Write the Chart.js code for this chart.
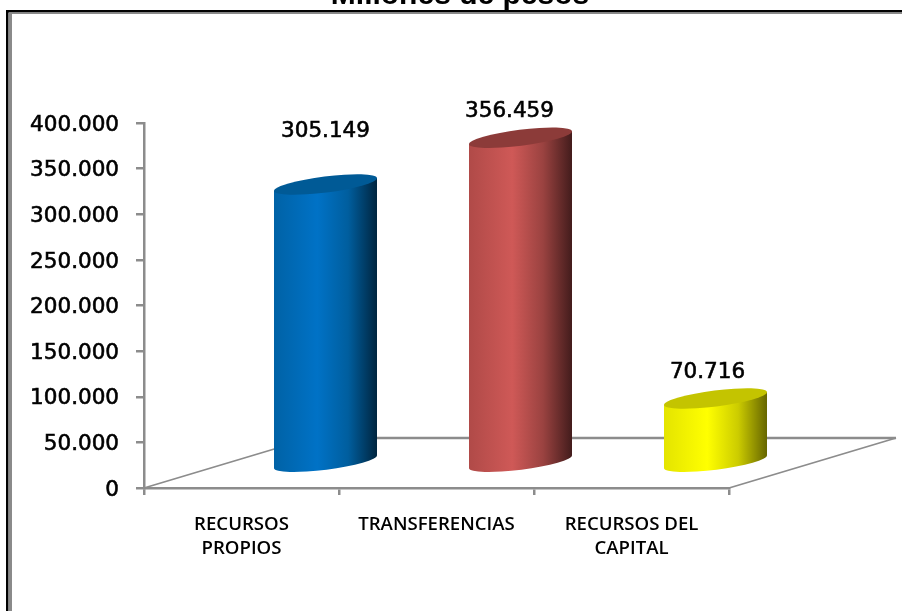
<!DOCTYPE html>
<html><head><meta charset="utf-8">
<style>html,body{margin:0;padding:0;background:#fff}#w{width:902px;height:611px}canvas{display:block;filter:blur(.4px)}</style>
<script src="https://cdn.jsdelivr.net/npm/chart.js@4"></script></head>
<body><div id="w"><canvas id="c" width="902" height="611"></canvas></div>
<script>
const categories = [['RECURSOS','PROPIOS'],'TRANSFERENCIAS',['RECURSOS DEL','CAPITAL']];
const values = [305149, 356459, 70716];
const valueLabels = ['305.149','356.459','70.716'];
const titleText = 'Millones de pesos';
const bodyStops = [
  ['#0062a6','#0072c6','#005e9e','#00253f'],
  ['#b04a48','#cf5957','#9a4240','#431c1c'],
  ['#e4e400','#ffff00','#cccc00','#666600']];
const capColors = ['#005a96','#8c3b39','#c4c400'];
const labelNudge = [[0,-53],[-11,-26],[-8,-26]];

const depthX = 84, depthY = -25, tilt = -7.2*Math.PI/180, capRy = 8;
const AXIS = '#8c8c8c';
function drawCylinder(ctx){
  const i = this.$context.dataIndex;
  const cx = this.x + depthX, top = this.y + depthY, bot = this.base + depthY, w = this.width;
  const rx = w/2/Math.cos(tilt), dy = Math.tan(tilt)*w/2;
  ctx.save();
  const g = ctx.createLinearGradient(cx-w/2,0,cx+w/2,0);
  const s = bodyStops[i];
  g.addColorStop(0,s[0]); g.addColorStop(.42,s[1]); g.addColorStop(.72,s[2]); g.addColorStop(1,s[3]);
  ctx.fillStyle = g;
  ctx.beginPath();
  ctx.moveTo(cx-w/2, top-dy);
  ctx.lineTo(cx+w/2, top+dy);
  ctx.lineTo(cx+w/2, bot+dy);
  ctx.ellipse(cx, bot, rx, capRy, tilt, 0, Math.PI);
  ctx.closePath();
  ctx.fill();
  ctx.fillStyle = capColors[i];
  ctx.beginPath();
  ctx.ellipse(cx, top, rx, capRy, tilt, 0, Math.PI*2);
  ctx.fill();
  ctx.restore();
}
const scene = {
  id:'scene',
  afterDatasetsUpdate(chart){
    chart.getDatasetMeta(0).data.forEach(el=>{ el.draw = drawCylinder; });
  },
  beforeDraw(chart){
    const ctx = chart.ctx;
    ctx.save();
    ctx.font='bold 30px "Liberation Sans"';
    ctx.fillStyle='#000';
    ctx.textAlign='center';
    ctx.textBaseline='alphabetic';
    ctx.fillText(titleText,460,4);
    ctx.fillStyle='#000';
    ctx.fillRect(6,10,896,2.5);
    ctx.fillRect(6,10,2.5,601);
    ctx.fillStyle='#8a8a8a';
    ctx.fillRect(9,13,3,598);
    ctx.fillRect(9,12.5,893,1.5);
    ctx.restore();
  },
  beforeDatasetsDraw(chart){
    const {ctx,chartArea:a} = chart;
    const fx = 167, fy = 50;
    ctx.save();
    ctx.strokeStyle=AXIS;
    ctx.lineWidth=1.8;
    ctx.beginPath();
    ctx.moveTo(a.left,a.bottom); ctx.lineTo(a.left+fx,a.bottom-fy);
    ctx.moveTo(a.right,a.bottom); ctx.lineTo(a.right+fx,a.bottom-fy);
    ctx.stroke();
    ctx.lineWidth=2.5;
    ctx.beginPath();
    ctx.moveTo(a.left+fx,a.bottom-fy); ctx.lineTo(a.right+fx,a.bottom-fy);
    ctx.stroke();
    ctx.restore();
  },
  afterDatasetsDraw(chart){
    const ctx = chart.ctx;
    ctx.save();
    ctx.font='21.5px "DejaVu Sans"';
    ctx.fillStyle='#000';
    ctx.strokeStyle='#000';
    ctx.lineWidth=0.6;
    ctx.textAlign='center';
    ctx.textBaseline='middle';
    chart.getDatasetMeta(0).data.forEach((el,i)=>{
      const tx = el.x+depthX+labelNudge[i][0], ty = el.y+depthY+labelNudge[i][1];
      ctx.fillText(valueLabels[i], tx, ty);
      ctx.strokeText(valueLabels[i], tx, ty);
    });
    ctx.restore();
  }
};
new Chart(document.getElementById('c'),{
  type:'bar',
  data:{labels:categories,datasets:[{data:values,backgroundColor:capColors,clip:false,barPercentage:103/195,categoryPercentage:1}]},
  options:{
    responsive:false,animation:false,
    layout:{padding:{top:123,left:0,right:173,bottom:0}},
    plugins:{legend:{display:false},title:{display:false},tooltip:{enabled:false}},
    scales:{
      x:{
        afterFit(s){s.height=123;},
        grid:{offset:true,drawOnChartArea:false,tickLength:7,color:AXIS,lineWidth:2.5},
        border:{color:AXIS,width:2.5},
        ticks:{color:'#000',padding:17,maxRotation:0,autoSkip:false,font:{family:'"Open Sans"',size:18.6,weight:'600',lineHeight:1.32}}
      },
      y:{
        min:0,max:400000,
        afterFit(s){s.width=144;},
        grid:{drawOnChartArea:false,tickLength:8,color:AXIS,lineWidth:2.5},
        border:{color:AXIS,width:2.5},
        ticks:{stepSize:50000,color:'#000',padding:17,textStrokeColor:'#000',textStrokeWidth:0.6,font:{family:'"DejaVu Sans"',size:21.5,lineHeight:0.2},
          callback:v=>['',v===0?'0':String(v/1000)+'.000']}
      }
    }
  },
  plugins:[scene]
});
</script></body></html>
